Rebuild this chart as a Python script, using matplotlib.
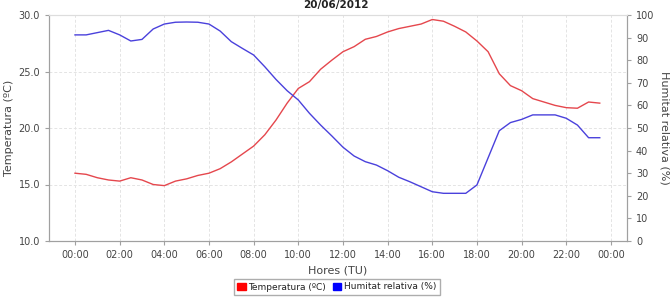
import matplotlib.pyplot as plt
import numpy as np

# half-hourly readings, 00:00 .. 23:30
hores = np.arange(48) * 0.5

temperatura = [16.0, 15.9, 15.6, 15.4, 15.3, 15.6, 15.4, 15.0, 14.9, 15.3,
               15.5, 15.8, 16.0, 16.4, 17.0, 17.7, 18.4, 19.4, 20.7, 22.2,
               23.5, 24.1, 25.2, 26.0, 26.75, 27.2, 27.85, 28.1, 28.5, 28.8,
               29.0, 29.2, 29.6, 29.45, 29.0, 28.5, 27.7, 26.75, 24.8, 23.75,
               23.3, 22.6, 22.3, 22.0, 21.8, 21.75, 22.3, 22.2]

humitat = [91.2, 91.2, 92.2, 93.2, 91.2, 88.5, 89.2, 93.8, 96.0, 96.8,
           96.9, 96.8, 96.0, 92.9, 88.2, 85.2, 82.3, 77.1, 71.5, 66.5,
           62.4, 56.5, 51.3, 46.5, 41.5, 37.6, 35.1, 33.6, 31.1, 28.2,
           26.2, 24.0, 21.8, 21.1, 21.1, 21.1, 24.8, 36.8, 48.8, 52.4,
           53.8, 55.8, 55.8, 55.8, 54.3, 51.3, 45.7, 45.7]

xticks = list(range(0, 25, 2))
xlabels = ["%02d:00" % (h % 24) for h in xticks]

gris = "#a0a0a0"
txt = "#444444"

fig = plt.figure(figsize=(6.72, 2.98), dpi=100)
ax = fig.add_axes([49 / 672, 1 - 241 / 298, (627 - 49) / 672, (241 - 15) / 298])
ax2 = ax.twinx()

ax.plot(hores, temperatura, color="#e5474d", lw=1.0, zorder=3)
ax2.plot(hores, humitat, color="#4a41dc", lw=1.0, zorder=3)

ax.set_xlim(-1.164, 24.72)
ax.set_ylim(10, 30)
ax2.set_ylim(0, 100)
ax.set_xticks(xticks)
ax.set_xticklabels(xlabels)
ax.set_yticks(np.arange(10, 30.1, 5))
ax.set_yticklabels(["%.1f" % v for v in np.arange(10, 30.1, 5)])
ax2.set_yticks(range(0, 101, 10))

ax.grid(True, color="#e4e4e4", ls=(0, (3, 2)), lw=0.7)
ax.set_axisbelow(True)

for a in (ax, ax2):
    for s in a.spines.values():
        s.set_color(gris)
        s.set_linewidth(0.8)
    a.tick_params(labelsize=7, colors=gris, labelcolor=txt, length=3, width=0.8)
ax.spines["top"].set_color("#dddddd")
ax2.spines["top"].set_color("#dddddd")

ax.set_xlabel("Hores (TU)", fontsize=8, color=txt, labelpad=4)
ax.set_ylabel("Temperatura (ºC)", fontsize=8, color=txt, labelpad=3)
ax2.set_ylabel("Humitat relativa (%)", fontsize=8, color=txt, rotation=-90, labelpad=11)

fig.text(0.5, 1.0, "20/06/2012", ha="center", va="top",
         fontsize=7.5, fontweight="bold", color="#222222")

h1 = plt.Rectangle((0, 0), 1, 1, color="red")
h2 = plt.Rectangle((0, 0), 1, 1, color="blue")
fig.legend([h1, h2], ["Temperatura (ºC)", "Humitat relativa (%)"],
           loc="center", bbox_to_anchor=(337 / 672, 1 - 287 / 298), ncol=2,
           fontsize=6.5, frameon=True, fancybox=False, edgecolor="#999999",
           handlelength=0.9, handleheight=0.9, handletextpad=0.3,
           columnspacing=0.8, borderpad=0.35, labelcolor="#222222")

fig.savefig("out.png", dpi=100)
